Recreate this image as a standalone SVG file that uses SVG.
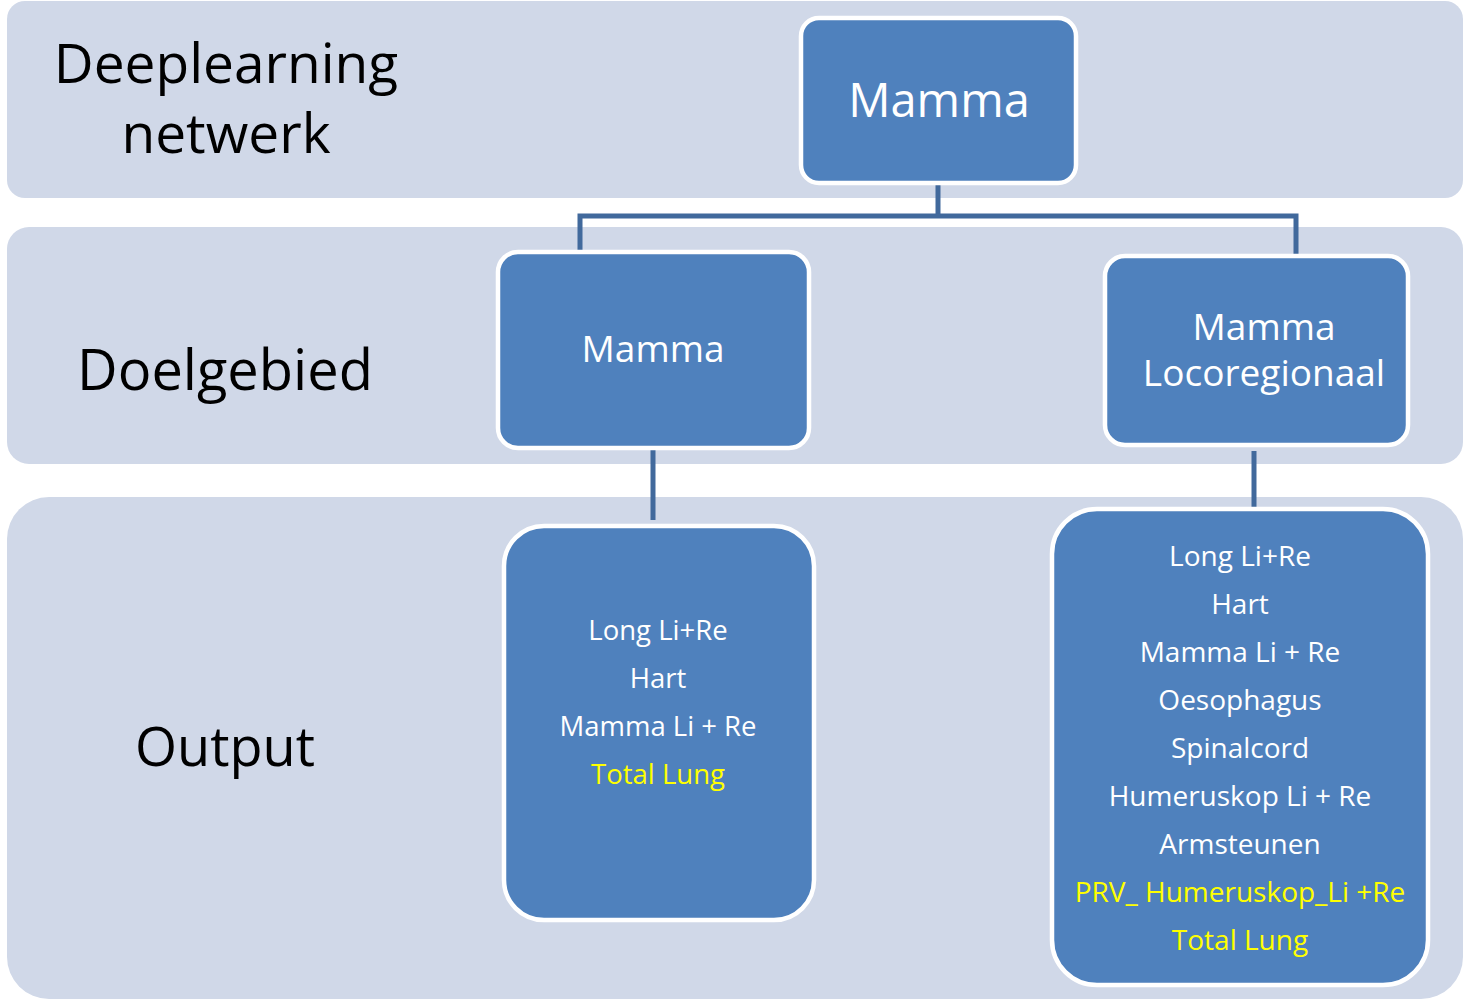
<svg xmlns="http://www.w3.org/2000/svg" width="1463" height="999" viewBox="0 0 1463 999">
<style>
.band{fill:#D0D8E8;}
.box{fill:#4F81BD;stroke:#FFFFFF;stroke-width:4.5;}
.conn{fill:none;stroke:#41699C;stroke-width:5;}
.lbl{font-family:"Open Sans","Liberation Sans",sans-serif;fill:#000000;text-anchor:middle;}
.t{font-family:"Open Sans","Liberation Sans",sans-serif;fill:#FFFFFF;text-anchor:middle;}
.y{fill:#FFFF00;}
</style>
<rect width="1463" height="999" fill="#FFFFFF"/>
<g id="bands">
<rect class="band" x="7" y="1" width="1456" height="197" rx="18"/>
<rect class="band" x="7" y="227" width="1456" height="237" rx="22"/>
<rect class="band" x="7" y="497" width="1456" height="502" rx="42"/>
</g>
<g id="row-labels">
<text class="lbl" x="226" y="83" font-size="55">Deeplearning</text>
<text class="lbl" x="226" y="153" font-size="55">netwerk</text>
<text class="lbl" x="225" y="390" font-size="56">Doelgebied</text>
<text class="lbl" x="225" y="766" font-size="54">Output</text>
</g>
<g id="connectors">
<path class="conn" d="M938,183 V216"/>
<path class="conn" d="M580,252 V216 H1296 V256"/>
<path class="conn" d="M653,448 V520"/>
<path class="conn" d="M1254,451 V507"/>
</g>
<g id="node-top">
<rect class="box" x="801" y="18" width="275" height="165" rx="18"/>
<text class="t" x="939" y="117" font-size="47">Mamma</text>
</g>
<g id="node-mamma">
<rect class="box" x="498" y="252" width="311" height="196" rx="20"/>
<text class="t" x="653" y="362" font-size="37">Mamma</text>
</g>
<g id="node-loco">
<rect class="box" x="1105" y="256" width="303" height="189" rx="20"/>
<text class="t" x="1264" y="340" font-size="37">Mamma</text>
<text class="t" x="1264" y="386" font-size="37">Locoregionaal</text>
</g>
<g id="node-output-mamma">
<rect class="box" x="504" y="526" width="310" height="394" rx="40"/>
<g font-size="27.5">
<text class="t" x="658" y="640">Long Li+Re</text>
<text class="t" x="658" y="688">Hart</text>
<text class="t" x="658" y="736">Mamma Li + Re</text>
<text class="t y" x="658" y="784">Total Lung</text>
</g>
</g>
<g id="node-output-loco">
<rect class="box" x="1052" y="509" width="376" height="476" rx="45"/>
<g font-size="28">
<text class="t" x="1240" y="566">Long Li+Re</text>
<text class="t" x="1240" y="614">Hart</text>
<text class="t" x="1240" y="662">Mamma Li + Re</text>
<text class="t" x="1240" y="710">Oesophagus</text>
<text class="t" x="1240" y="758">Spinalcord</text>
<text class="t" x="1240" y="806">Humeruskop Li + Re</text>
<text class="t" x="1240" y="854">Armsteunen</text>
<text class="t y" x="1240" y="902">PRV_ Humeruskop_Li +Re</text>
<text class="t y" x="1240" y="950">Total Lung</text>
</g>
</g>
</svg>
